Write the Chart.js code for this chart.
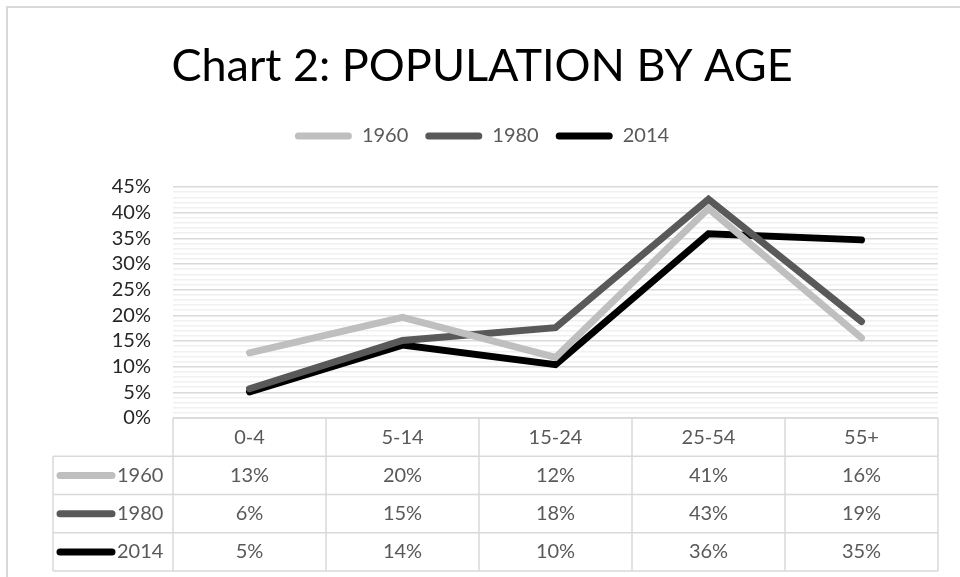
<!DOCTYPE html>
<html>
<head>
<meta charset="utf-8">
<script src="https://cdn.jsdelivr.net/npm/chart.js@4"></script>
<style>
  html, body { margin: 0; padding: 0; background: #fff; overflow: hidden; }
  #wrap { position: relative; width: 960px; height: 577px; }
  #frame { position: absolute; left: 6px; top: 6px; width: 1000px; height: 1000px; border: 2px solid #d9d9d9; }
  canvas { position: absolute; left: 0; top: 0; }
</style>
</head>
<body>
<div id="wrap">
  <div id="frame"></div>
  <canvas id="popChart" width="960" height="577"></canvas>
</div>
<script>
// 年龄段与各年份人口占比（%）
const ageGroups = ['0-4', '5-14', '15-24', '25-54', '55+'];
const years = ['1960', '1980', '2014'];
const pop1960 = [12.7, 19.6, 11.8, 40.8, 15.6];
const pop1980 = [5.7, 15.1, 17.6, 42.6, 18.8];
const pop2014 = [5.1, 14.2, 10.4, 35.9, 34.7];
const lineColors = ['#bfbfbf', '#595959', '#000000'];

const FONT = 'Lato, "Liberation Sans", sans-serif';

// 图例下方多留一点空
const legendGap = {
  id: 'legendGap',
  beforeInit(chart) {
    const fit = chart.legend.fit;
    chart.legend.fit = function () {
      fit.bind(chart.legend)();
      this.height += 31;
    };
  }
};

// 画在 x 轴区域里的数据表
const dataTable = {
  id: 'dataTable',
  afterDraw(chart) {
    const ctx = chart.ctx;
    const xs = chart.scales.x, ys = chart.scales.y;
    const n = ageGroups.length;
    const colW = (xs.right - xs.left) / n;
    const top = chart.chartArea.bottom;
    const rowH = (xs.bottom - top) / 4;
    const leftEdge = ys.right - 120;
    ctx.save();
    ctx.strokeStyle = '#d9d9d9';
    ctx.lineWidth = 1.5;
    // 横线
    for (let r = 0; r <= 4; r++) {
      const y = top + r * rowH;
      ctx.beginPath();
      ctx.moveTo(r === 0 ? xs.left : leftEdge, y);
      ctx.lineTo(xs.right, y);
      ctx.stroke();
    }
    // 竖线
    for (let c = 0; c <= n; c++) {
      const x = xs.left + c * colW;
      ctx.beginPath();
      ctx.moveTo(x, top);
      ctx.lineTo(x, top + 4 * rowH);
      ctx.stroke();
    }
    ctx.beginPath();
    ctx.moveTo(leftEdge, top + rowH);
    ctx.lineTo(leftEdge, top + 4 * rowH);
    ctx.stroke();

    ctx.font = '20px ' + FONT;
    ctx.fillStyle = '#595959';
    ctx.textBaseline = 'middle';
    ctx.textAlign = 'center';
    ageGroups.forEach((g, i) => {
      ctx.fillText(g, xs.getPixelForValue(i), top + rowH / 2);
    });
    chart.data.datasets.forEach((ds, r) => {
      const yc = top + (r + 1.5) * rowH;
      // 图例线段
      ctx.save();
      ctx.strokeStyle = ds.borderColor;
      ctx.lineWidth = 7;
      ctx.lineCap = 'round';
      ctx.beginPath();
      ctx.moveTo(leftEdge + 7, yc);
      ctx.lineTo(leftEdge + 59, yc);
      ctx.stroke();
      ctx.restore();
      ctx.textAlign = 'left';
      ctx.fillText(ds.label, leftEdge + 64, yc);
      ctx.textAlign = 'center';
      ds.data.forEach((v, i) => {
        ctx.fillText(Math.round(v) + '%', xs.getPixelForValue(i), yc);
      });
    });
    ctx.restore();
  }
};

new Chart(document.getElementById('popChart'), {
  type: 'line',
  data: {
    labels: ageGroups,
    datasets: [
      { label: years[0], data: pop1960, borderColor: lineColors[0], backgroundColor: lineColors[0] },
      { label: years[1], data: pop1980, borderColor: lineColors[1], backgroundColor: lineColors[1] },
      { label: years[2], data: pop2014, borderColor: lineColors[2], backgroundColor: lineColors[2] }
    ]
  },
  options: {
    responsive: false,
    animation: false,
    events: [],
    layout: { padding: { left: 26, right: 22, top: 0, bottom: 6 } },
    elements: {
      line: { borderWidth: 7, borderCapStyle: 'round', borderJoinStyle: 'miter', tension: 0 },
      point: { radius: 0 }
    },
    plugins: {
      title: {
        display: true,
        text: 'Chart 2: POPULATION BY AGE',
        color: '#000',
        font: { family: FONT, size: 45, weight: 'normal' },
        padding: { top: 39, bottom: 16 }
      },
      legend: {
        position: 'top',
        labels: {
          color: '#595959',
          font: { family: FONT, size: 20 },
          boxWidth: 57,
          boxHeight: 7,
          useBorderRadius: true,
          borderRadius: 3.5,
          padding: 17,
          generateLabels: chart =>
            Chart.defaults.plugins.legend.labels.generateLabels(chart).map(l => Object.assign(l, { lineWidth: 0 }))
        }
      },
      tooltip: { enabled: false }
    },
    scales: {
      x: {
        offset: true,
        grid: { display: false },
        border: { display: false },
        ticks: { display: false },
        afterFit: s => { s.height = 153; }
      },
      y: {
        min: 0,
        max: 45,
        border: { display: false },
        grid: {
          drawTicks: false,
          lineWidth: 1.5,
          color: c => (Math.round(c.tick.value) % 5 === 0 ? '#d9d9d9' : '#f0f0f0')
        },
        ticks: {
          stepSize: 1,
          autoSkip: false,
          maxTicksLimit: 100,
          padding: 22,
          color: '#262626',
          font: { family: FONT, size: 20 },
          callback: v => (Math.round(v) % 5 === 0 ? Math.round(v) + '%' : '')
        },
        afterFit: s => { s.width = 147; }
      }
    }
  },
  plugins: [legendGap, dataTable]
});
</script>
</body>
</html>
